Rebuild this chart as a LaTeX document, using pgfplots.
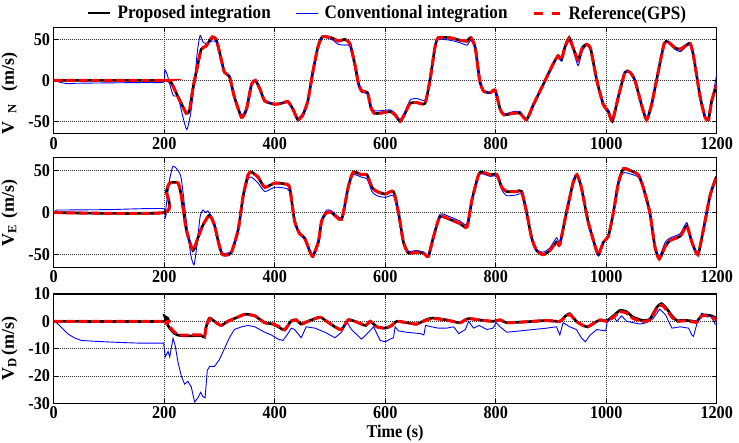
\documentclass[border=0pt]{standalone}
\usepackage{fontspec}
\setmainfont{Liberation Serif}[FakeStretch=0.9]
\newfontfamily\labfont{Liberation Serif}
\usepackage{pgfplots}
\usepackage{pgfplotstable}
\pgfplotsset{compat=1.18}

% ---------- V_N ----------
\pgfplotstableread{
t v
0 0
200 0
205 0
213 -3
225 -20
240 -40
246 -36
252 -10
261 20
267 38
276 42
287 53
294 50
300 35
309 10
318 5
327 -20
340 -45
349 -35
358 -5
365 0
373 -10
382 -25
400 -29
412 -28
424 -26
433 -35
442 -48
451 -42
460 -25
469 10
478 40
486 53
503 52
515 48
527 50
536 45
545 20
552 -5
558 -13
568 -15
574 -33
580 -40
591 -40
609 -38
618 -42
627 -50
636 -40
645 -28
657 -27
672 -28
681 0
690 40
696 52
717 52
735 49
748 48
755 52
763 40
771 0
778 -13
790 -15
799 -12
808 -35
815 -42
832 -40
844 -40
856 -48
868 -30
886 -5
904 20
913 30
919 25
925 40
933 52
940 40
949 25
957 40
965 44
972 38
983 0
995 -30
1004 -38
1011 -50
1022 -20
1034 10
1043 10
1052 0
1064 -30
1073 -48
1082 -30
1094 10
1105 45
1112 47
1124 40
1134 38
1143 42
1152 45
1158 30
1170 -20
1179 -45
1185 -48
1191 -25
1200 -5
}\vnref

\pgfplotstableread{
t v
0 0
10 -2
25 -4
40 -3.5
100 -3
170 -2.5
199 -2
201 13
205 8
216 -18
225 -20
234 -45
241 -60
248 -40
255 0
260 35
265 55
270 47
276 45
287 48
294 47
300 33
309 10
318 5
327 -20
340 -42
349 -33
358 -5
365 0
373 -10
382 -25
400 -29
412 -28
424 -27
433 -36
442 -46
451 -40
460 -24
469 10
478 40
486 53
503 50
515 44
527 43
536 42
545 15
552 -8
558 -15
568 -16
574 -30
580 -37
591 -37
609 -36
618 -40
627 -48
636 -38
645 -24
657 -22
672 -24
681 0
690 40
696 50
717 49
735 46
748 43
755 49
763 38
771 0
778 -13
790 -15
799 -12
808 -34
815 -41
832 -38
844 -38
856 -47
868 -30
886 -5
904 20
913 28
919 24
925 38
933 48
940 38
949 18
957 36
965 43
972 38
983 2
995 -28
1004 -36
1011 -48
1022 -20
1034 10
1043 11
1052 0
1064 -30
1073 -47
1082 -30
1094 10
1105 44
1112 46
1124 38
1134 35
1143 40
1152 44
1158 30
1170 -20
1179 -44
1185 -47
1191 -25
1200 7
}\vnconv

% ---------- V_E ----------
\pgfplotstableread{
t v
0 0
200 0
204 25
210 35
225 35
231 20
240 -20
252 -45
261 -30
270 -15
282 -3
291 -15
300 -40
306 -50
321 -48
334 -20
343 20
352 45
358 48
370 42
382 30
400 35
418 34
427 30
436 -10
445 -25
454 -30
463 -45
469 -52
479 -35
485 -10
494 0
503 0
521 -8
533 30
542 48
557 45
567 45
576 30
585 25
600 22
615 25
624 0
633 -35
642 -48
657 -47
669 -48
678 -52
687 -30
699 -5
717 -8
735 -13
748 -17
757 15
769 45
775 48
790 45
802 45
811 30
820 25
838 25
847 25
856 0
865 -30
874 -45
886 -50
898 -45
910 -35
916 -38
928 0
940 35
947 45
955 30
967 -10
980 -40
986 -50
995 -35
1004 -28
1013 0
1022 35
1031 52
1043 50
1058 45
1067 30
1079 0
1088 -40
1096 -55
1107 -40
1116 -33
1134 -28
1146 -16
1155 -35
1166 -50
1176 -20
1188 20
1198 40
1200 42
}\veref

\pgfplotstableread{
t v
0 0
5 3
10 3
100 3.5
199 4.5
201 -8
204 10
210 40
216 55
225 50
231 40
240 -10
248 -50
254 -62
259 -40
265 -5
270 3
275 0
279 2
284 -3
291 -15
300 -40
306 -48
321 -46
334 -20
343 18
352 40
358 42
370 35
382 25
400 30
418 29
427 25
436 -10
445 -25
454 -32
463 -45
469 -50
479 -33
485 -8
494 3
503 2
521 -6
533 30
542 45
557 42
567 40
576 25
585 20
600 18
615 20
624 -2
633 -35
642 -46
657 -45
669 -47
678 -50
687 -28
699 -2
717 -5
735 -10
748 -14
757 15
769 43
775 46
790 43
802 43
811 27
820 20
838 21
847 22
856 0
865 -30
874 -44
886 -47
898 -42
910 -30
916 -35
928 0
940 35
947 45
955 30
967 -10
980 -40
986 -50
995 -35
1004 -27
1013 0
1022 35
1031 47
1043 46
1058 42
1067 28
1079 0
1088 -40
1096 -52
1107 -35
1116 -30
1134 -25
1146 -12
1155 -35
1166 -49
1176 -20
1188 20
1198 40
1200 42
}\veconv

% ---------- V_D ----------
\pgfplotstableread{
t v
0 0
200 0
203 -0.5
210 -2
219 -4
228 -5
249 -5
267 -5
273 -5.5
276 -2
282 1
291 0
303 -1.5
315 0
327 1
346 2.5
364 2
382 -0.5
397 -1
409 -2
418 -3
430 0
439 0.5
448 -1
460 0
482 1.5
494 0
509 -2
521 -3
533 0.5
545 0
557 -1
565 -1.5
573 0
585 -2
600 -2.5
612 -1.5
621 0
639 -0.5
657 -1
675 0.5
687 1
711 0.5
735 -0.5
750 1
771 0.5
795 0
808 0.5
820 -0.5
844 -0.3
868 0
892 0.3
916 0
925 1.5
934 2.5
946 0
958 -1.5
967 -2
979 -0.5
989 0.5
1001 0
1013 1.5
1025 3.5
1037 3
1049 1
1067 0
1079 0.5
1091 4.5
1100 6
1110 4
1119 1.5
1128 0
1140 0.2
1152 0
1164 -0.3
1173 2
1182 2
1191 1.5
1200 0.5
}\vdref

\pgfplotstableread{
t v
0 0
199 0
201 1.8
204 -0.5
210 -2.5
219 -4.5
228 -5.2
249 -5.3
267 -5.2
273 -5.8
276 -2
282 1.2
291 0
303 -1.5
315 0
327 1
346 2.6
364 2
382 -0.5
397 -1
409 -2.3
418 -3.2
430 0.2
439 0.5
448 -1
460 0
482 1.5
494 0
509 -2
521 -3
533 0.5
545 0
557 -1
565 -1.5
573 0
585 -2
600 -2.5
612 -1.5
621 0
639 -0.5
657 -1
675 0.7
687 1.2
711 0.5
735 -0.5
750 1
771 0.5
795 0
808 0.5
820 -0.5
844 -0.3
868 0
892 0.3
916 0
925 1.7
934 2.8
946 0
958 -1.5
967 -2
979 -0.5
989 0.5
1001 0.2
1013 2
1025 4
1037 3.5
1049 1.5
1067 0.3
1079 0.8
1091 5
1100 6.5
1110 4.5
1119 2
1128 0.3
1140 0.4
1152 0.2
1164 0
1173 2.2
1182 2.3
1191 2
1200 1
}\vdprop

\pgfplotstableread{
t v
0 0
5 -0.5
13 -2
25 -4.5
37 -6
50 -7
74 -7.3
116 -7.7
158 -8
199 -8
202 -13
207 -11
210 -13
216 -6.2
220 -9
225 -15
231 -20
237 -23
243 -22
249 -24
255 -29.5
261 -28
266 -26
270 -27.5
274 -28
278 -18
282 -16.5
291 -16.5
300 -14
309 -10
318 -6
327 -3
340 -2
352 -1.5
364 -2
382 -4
394 -5
406 -6.5
415 -7
424 -4.5
430 -2.5
436 -3
448 -6
457 -2
473 -2.5
491 -4
509 -6
521 -4
530 0
539 -3
557 -6.5
565 -5
579 -2
591 -7
600 -7.5
609 -6.5
615 -6
618 -2
624 -3.5
639 -4
664 -4.5
670 -5
673 -1.5
684 -2
696 -2.5
711 -2.5
724 -2
733 -4.5
745 -3
751 0
760 -2.5
770 -1.5
784 -3
795 -2.5
801 -0.5
808 -2
820 -4
844 -3.5
868 -3
892 -2.5
910 -2
916 -5
922 -0.5
934 -2
946 -3
955 -6
962 -7.5
971 -5
983 -3
999 -3.5
1002 0
1013 2
1019 0
1028 2
1037 0
1049 -0.5
1061 -1
1073 -0.5
1085 1
1097 4.5
1107 2.5
1119 -2.5
1134 -2
1149 -2.5
1155 -5
1158 -5.5
1164 -1
1173 3
1182 2
1191 1.5
1197 -1
1200 -1
}\vdconv

\pgfplotsset{
  panel/.style={
    scale only axis, width=663pt,
    xmin=0, xmax=1200, xtick={0,200,...,1200},
    grid=major,
    grid style={black!80, line width=0.5pt, dash pattern=on 1pt off 1pt},
    axis line style={line width=1.1pt, black},
    tick align=inside, major tick length=4pt,
    tick style={black, line width=0.7pt},
    /pgf/number format/assume math mode=true,
    /pgf/number format/1000 sep={},
    tick label style={font=\fontsize{18}{18}\selectfont\bfseries},
    xticklabel style={inner sep=0pt, yshift=-3.5pt, anchor=north},
    yticklabel style={inner sep=0pt, xshift=-3.5pt, anchor=east},
    ylabel style={font=\labfont\fontsize{18}{18}\selectfont\bfseries, inner sep=0pt,
      at={(axis description cs:-0.054,0.5)}, anchor=south},
    legend image code/.code={\draw[#1] (0pt,0pt) -- (22pt,0pt);},
  },
  propline/.style={black, line width=2.6pt, smooth, tension=0.35},
  refline/.style={red, line width=3pt, dash pattern=on 9pt off 3.5pt, smooth, tension=0.35},
  convline/.style={blue, line width=0.9pt},
}

\begin{document}
\begin{tikzpicture}
\useasboundingbox (0,0) rectangle (739pt,-442pt);

% Panel 1: V_N
\begin{axis}[panel, at={(53.7pt,-133.7pt)}, anchor=south west, height=106.6pt,
  ymin=-65, ymax=65, ytick={-50,0,50},
  ylabel={V\hspace{8pt}\textsubscript{N}\hspace{12pt}(m/s)},
  ylabel style={at={(axis description cs:-0.054,0.377)}},
  legend columns=3,
  legend style={draw=none, fill=none, inner sep=0pt,
    at={(0.502,1.131)}, anchor=center,
    font=\fontsize{19}{19}\selectfont\bfseries,
    nodes={inner sep=0pt},
    /tikz/every odd column/.append style={column sep=6pt},
    /tikz/every even column/.append style={column sep=25pt}},
  ]
\addplot[propline] table[x=t, y=v] {\vnref};
\addlegendentry{Proposed integration}
\addplot[convline, smooth, tension=0.35] table[x=t, y=v] {\vnconv};
\addlegendentry{Conventional integration}
\addplot[refline, legend image code/.code={\draw[red, line width=3pt, dash pattern=on 8.5pt off 9pt] (0pt,0pt) -- (27pt,0pt);}] table[x=t, y=v] {\vnref};
\addlegendentry{Reference(GPS)}
\end{axis}

% Panel 2: V_E
\begin{axis}[panel, at={(53.7pt,-267.3pt)}, anchor=south west, height=109.5pt,
  ymin=-65, ymax=65, ytick={-50,0,50},
  ylabel={V\textsubscript{E}\hspace{6pt}(m/s)},
  ]
\addplot[propline] table[x=t, y=v] {\veref};
\addplot[convline, smooth, tension=0.35] table[x=t, y=v] {\veconv};
\addplot[refline] table[x=t, y=v] {\veref};
\end{axis}

% Panel 3: V_D
\begin{axis}[panel, at={(53.7pt,-403.3pt)}, anchor=south west, height=109.3pt,
  ymin=-30, ymax=10, ytick={-30,-20,...,10},
  ylabel={V\textsubscript{D}\hspace{2pt}(m/s)},
  xlabel={Time (s)},
  xlabel style={font=\fontsize{18}{18}\selectfont\bfseries, inner sep=0pt,
    at={(axis description cs:0.515,0)}, anchor=north, yshift=-22pt},
  ]
\addplot[propline] table[x=t, y=v] {\vdprop};
\addplot[convline] table[x=t, y=v] {\vdconv};
\addplot[refline] table[x=t, y=v] {\vdref};
\end{axis}
\end{tikzpicture}
\end{document}
